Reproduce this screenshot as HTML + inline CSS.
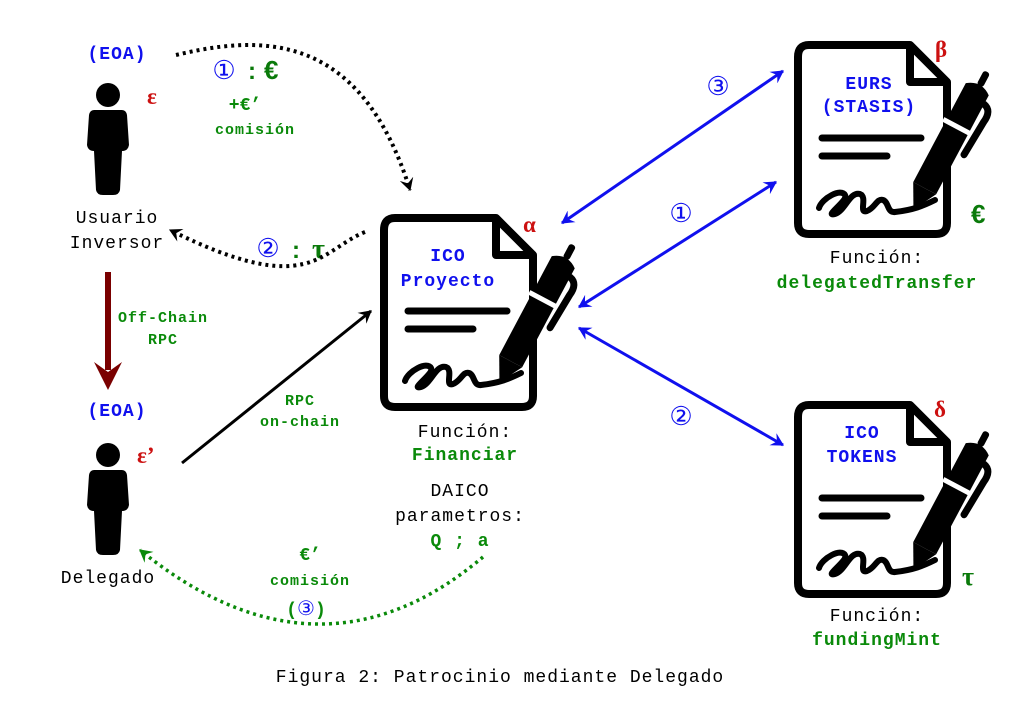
<!DOCTYPE html>
<html><head><meta charset="utf-8"><style>
html,body{margin:0;padding:0;background:#fff;width:1020px;height:715px;overflow:hidden}
svg{display:block}
text{font-family:"Liberation Mono",monospace}
.m{font-size:18px;letter-spacing:1px}
.s{font-size:15px;letter-spacing:1px}
</style></head><body>
<svg width="1020" height="715" viewBox="0 0 1020 715" xmlns="http://www.w3.org/2000/svg">
<defs>
<marker id="bh" viewBox="0 0 12 12" refX="10" refY="6" markerWidth="14" markerHeight="14" markerUnits="userSpaceOnUse" orient="auto-start-reverse"><path d="M0,0 L11,6 L0,12 L4,6 Z" fill="#1010ee"/></marker>
<marker id="kh" viewBox="0 0 12 12" refX="10" refY="6" markerWidth="14" markerHeight="14" markerUnits="userSpaceOnUse" orient="auto"><path d="M0,0 L11,6 L0,12 L4,6 Z" fill="#000"/></marker>
<marker id="gh" viewBox="0 0 12 12" refX="10" refY="6" markerWidth="14" markerHeight="14" markerUnits="userSpaceOnUse" orient="auto"><path d="M0,0 L11,6 L0,12 L4,6 Z" fill="#0a8a0a"/></marker>
<g id="doc">
<path d="M12,0 H113 L150,37 V178 Q150,189 139,189 H12 Q1,189 1,178 V12 Q1,0 12,0 Z" fill="#fff" stroke="#000" stroke-width="8" stroke-linejoin="round"/>
<path d="M113,0 V37 H150" fill="none" stroke="#000" stroke-width="8" stroke-linejoin="round"/>
<path d="M25,93 H124 M25,111 H90" stroke="#000" stroke-width="7" stroke-linecap="round"/>
<path d="M22,163 c3,-10 22,-20 26,-13 c3,6 -22,22 -10,19 c10,-3 15,-23 25,-20 c8,3 -2,20 7,17 c8,-3 10,-13 16,-11 c6,2 4,13 12,12 c18,-2 28,-6 40,-12" fill="none" stroke="#000" stroke-width="6" stroke-linecap="round"/>
<g transform="translate(123,152) rotate(28)">
<path d="M-13,-10 L13,-10 L13,-122 Q0,-132 -13,-122 Z" fill="#000"/>
<path d="M-13,-10 L13,-10 L0,14 Z" fill="#000"/>
<rect x="-16" y="-82" width="32" height="5" fill="#fff"/>
<rect x="-3" y="-142" width="7" height="16" rx="3" fill="#000"/>
<path d="M13,-112 Q23,-110 21,-96 L19,-58" fill="none" stroke="#000" stroke-width="7" stroke-linecap="round"/>
</g>
</g>
<g id="person">
<circle cx="0" cy="0" r="12" fill="#000"/>
<path d="M-14,15 H14 Q18,15 19,20 L21,50 Q20,56 14,56 L12,95 Q11,100 5,100 H-5 Q-11,100 -12,95 L-14,56 Q-20,56 -21,50 L-19,20 Q-18,15 -14,15 Z" fill="#000"/>
</g>
</defs>

<use href="#doc" x="383" y="218"/>
<use href="#doc" x="797" y="45"/>
<use href="#doc" x="797" y="405"/>
<use href="#person" x="108" y="95"/>
<use href="#person" x="108" y="455"/>

<g font-weight="bold" fill="#1010ee" text-anchor="middle">
<text class="m" x="448" y="261">ICO</text>
<text class="m" x="448" y="286">Proyecto</text>
<text class="m" x="869" y="89">EURS</text>
<text class="m" x="869" y="112">(STASIS)</text>
<text class="m" x="862" y="438">ICO</text>
<text class="m" x="862" y="462">TOKENS</text>
<text class="m" x="117" y="59">(EOA)</text>
<text class="m" x="117" y="416">(EOA)</text>
</g>

<g font-size="23" fill="#cc1010" font-weight="bold">
<text x="147" y="104" style="font-family:'Liberation Serif',serif">ε</text>
<text x="137" y="463" style="font-family:'Liberation Serif',serif">ε’</text>
<text x="523" y="232" style="font-family:'Liberation Serif',serif">α</text>
<text x="935" y="57" style="font-family:'Liberation Serif',serif">β</text>
<text x="934" y="417" style="font-family:'Liberation Serif',serif">δ</text>
</g>
<g font-size="26" fill="#0a7a0a" font-weight="bold">
<text x="971" y="223" style="font-family:'Liberation Sans',sans-serif">€</text>
<text x="962" y="585" style="font-family:'Liberation Serif',serif">τ</text>
</g>

<g fill="#000" text-anchor="middle">
<text class="m" x="117" y="223">Usuario</text>
<text class="m" x="117" y="248">Inversor</text>
<text class="m" x="108" y="583">Delegado</text>
<text class="m" x="465" y="437">Función:</text>
<text class="m" x="460" y="496">DAICO</text>
<text class="m" x="460" y="521">parametros:</text>
<text class="m" x="877" y="263">Función:</text>
<text class="m" x="877" y="621">Función:</text>
<text class="m" x="500" y="682">Figura 2: Patrocinio mediante Delegado</text>
</g>
<g fill="#0a8a0a" font-weight="bold" text-anchor="middle">
<text class="m" x="465" y="460">Financiar</text>
<text class="m" x="460" y="546">Q ; a</text>
<text class="m" x="877" y="288">delegatedTransfer</text>
<text class="m" x="877" y="645">fundingMint</text>
<text class="s" x="163" y="322">Off-Chain</text>
<text class="s" x="163" y="344">RPC</text>
<text class="s" x="300" y="405">RPC</text>
<text class="s" x="300" y="426">on-chain</text>
<text class="s" x="255" y="134">comisión</text>
<text class="s" x="310" y="585">comisión</text>
<text x="245" y="110" font-size="18">+€’</text>
<text x="310" y="560" font-size="18">€’</text>
<text x="306" y="615" font-size="18">(<tspan fill="#1010ee" font-weight="normal" font-size="20">③</tspan>)</text>
</g>
<g font-size="26" fill="#1010ee" text-anchor="middle">
<text x="224" y="79">①</text>
<text x="268" y="257">②</text>
<text x="718" y="95">③</text>
<text x="681" y="222">①</text>
<text x="681" y="425">②</text>
</g>
<g font-size="24" font-weight="bold" fill="#0a7a0a">
<text x="248" y="79" style="font-family:'Liberation Sans',sans-serif">:</text>
<text x="264" y="79" style="font-family:'Liberation Sans',sans-serif;font-size:26px">€</text>
<text x="292" y="258" style="font-family:'Liberation Sans',sans-serif">:</text>
<text x="312" y="258" style="font-family:'Liberation Serif',serif;font-size:28px">τ</text>
</g>

<g stroke="#1010ee" stroke-width="3" fill="none">
<line x1="562" y1="223" x2="783" y2="71" marker-start="url(#bh)" marker-end="url(#bh)"/>
<line x1="579" y1="307" x2="776" y2="182" marker-start="url(#bh)" marker-end="url(#bh)"/>
<line x1="579" y1="328" x2="783" y2="445" marker-start="url(#bh)" marker-end="url(#bh)"/>
</g>
<line x1="182" y1="463" x2="371" y2="311" stroke="#000" stroke-width="3" marker-end="url(#kh)"/>
<line x1="108" y1="272" x2="108" y2="370" stroke="#7a0000" stroke-width="6"/>
<path d="M94,362 L108,390 L122,362 L108,372 Z" fill="#7a0000"/>
<path d="M176,55 C260,35 360,30 410,190" fill="none" stroke="#000" stroke-width="4" stroke-dasharray="3,4" marker-end="url(#kh)"/>
<path d="M365,232 C320,250 310,300 170,230" fill="none" stroke="#000" stroke-width="4" stroke-dasharray="3,4" marker-end="url(#kh)"/>
<path d="M483,557 C420,610 300,680 140,550" fill="none" stroke="#0a8a0a" stroke-width="3.5" stroke-dasharray="3,4" marker-end="url(#gh)"/>
</svg>
</body></html>
